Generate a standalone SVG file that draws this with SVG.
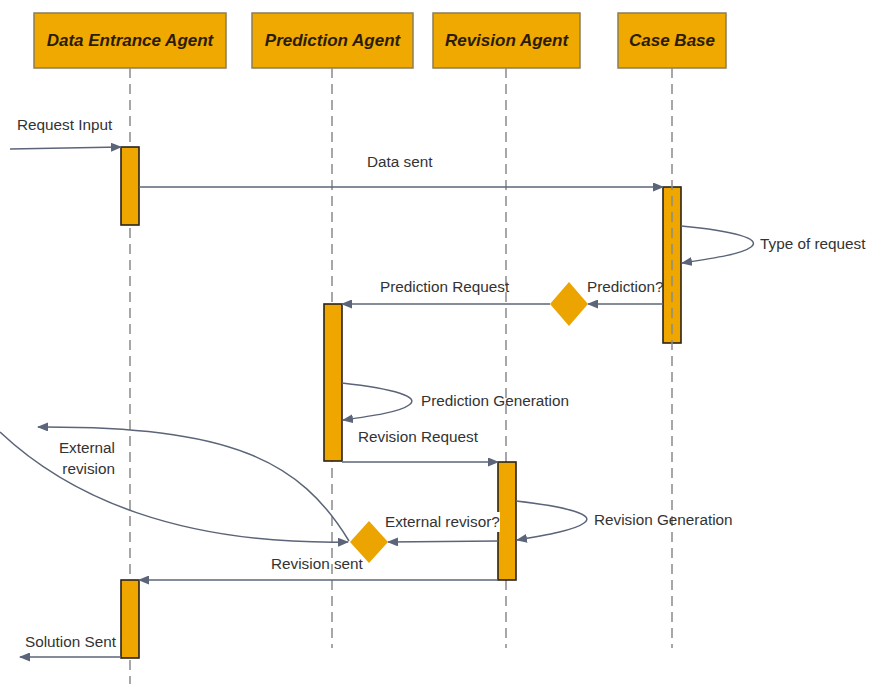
<svg xmlns="http://www.w3.org/2000/svg" width="869" height="684" viewBox="0 0 869 684">
  <defs>
    <marker id="arrow" markerUnits="userSpaceOnUse" markerWidth="11" markerHeight="9" refX="10" refY="4.5" orient="auto">
      <path d="M0,0 L11,4.5 L0,9 z" fill="#5b6478"/>
    </marker>
    <style>
      .head { fill: #f0a900; stroke: #8c7d55; stroke-width: 1.5; }
      .head-text { font-family: "Liberation Sans", Arial, sans-serif; font-size: 17px; font-weight: bold; font-style: italic; fill: #2b1d05; text-anchor: middle; }
      .life { stroke: #8a8a8a; stroke-width: 1.5; stroke-dasharray: 10 6; fill: none; }
      .bar { fill: #efa700; stroke: #2a2418; stroke-width: 1.6; }
      .msg { stroke: #5b6478; stroke-width: 1.5; fill: none; marker-end: url(#arrow); }
      .label { font-family: "Liberation Sans", Arial, sans-serif; font-size: 15.3px; fill: #333333; }
      .decision { fill: #eba400; stroke: none; }
    </style>
  </defs>

  <rect width="869" height="684" fill="#ffffff"/>

  <!-- Data Entrance Agent -->
  <g id="data-entrance-agent">
    <rect class="head" x="34" y="13" width="192" height="55"/>
    <text class="head-text" x="130" y="46">Data Entrance Agent</text>
    <line class="life" x1="130" y1="68" x2="130" y2="684"/>
    <rect class="bar" x="121" y="147" width="18" height="78"/>
    <rect class="bar" x="121" y="580" width="18" height="78"/>
  </g>

  <!-- Prediction Agent -->
  <g id="prediction-agent">
    <rect class="head" x="252" y="13" width="161" height="55"/>
    <text class="head-text" x="332.5" y="46">Prediction Agent</text>
    <line class="life" x1="332" y1="68" x2="332" y2="648"/>
    <rect class="bar" x="324" y="304" width="18" height="157"/>
  </g>

  <!-- Revision Agent -->
  <g id="revision-agent">
    <rect class="head" x="433" y="13" width="147" height="55"/>
    <text class="head-text" x="506.5" y="46">Revision Agent</text>
    <line class="life" x1="506" y1="68" x2="506" y2="648"/>
    <rect class="bar" x="498" y="462" width="18" height="118"/>
  </g>

  <!-- Case Base (lifeline stays visible over its activation bar) -->
  <g id="case-base">
    <rect class="head" x="618" y="13" width="108" height="55"/>
    <text class="head-text" x="672" y="46">Case Base</text>
    <rect class="bar" x="663" y="187" width="18" height="156"/>
    <line class="life" x1="672" y1="68" x2="672" y2="648"/>
  </g>

  <!-- Messages -->
  <g id="connectors">
    <path class="msg" d="M10,149 L121,147"/>
    <path class="msg" d="M139,187 L663,187"/>
    <path class="msg" d="M681,226 C735,231 762,239 751,247 C742,254 715,258 682,263"/>
    <path class="msg" d="M663,304 L588,304"/>
    <path class="msg" d="M550,304 L342,304"/>
    <path class="msg" d="M342,383 C395,389 421,397 409,405 C400,412 372,416 343,420"/>
    <path class="msg" d="M342,462 L498,462"/>
    <path class="msg" d="M516,501 C569,507 596,515 584,523 C575,530 547,535 517,540"/>
    <path class="msg" d="M498,541 L388,542"/>
    <path class="msg" d="M349,541 C300,460 230,426 38,427"/>
    <path class="msg" d="M0,432 C70,498 180,545 348,542"/>
    <path class="msg" d="M498,580 L139,580"/>
    <path class="msg" d="M121,657 L20,657"/>
  </g>

  <!-- Decision points -->
  <g id="prediction-decision">
    <polygon class="decision" points="569,282 588,304 569,326 550,304"/>
  </g>
  <g id="revisor-decision">
    <polygon class="decision" points="369,521 388,542 369,563 350,542"/>
  </g>

  <!-- Message labels -->
  <g id="labels">
    <text class="label" x="17" y="130">Request Input</text>
    <text class="label" x="367" y="167">Data sent</text>
    <text class="label" x="760" y="249">Type of request</text>
    <text class="label" x="380" y="292">Prediction Request</text>
    <text class="label" x="587" y="292">Prediction?</text>
    <text class="label" x="421" y="406">Prediction Generation</text>
    <text class="label" x="358" y="442">Revision Request</text>
    <text class="label" x="594" y="525">Revision Generation</text>
    <rect x="384" y="512" width="116" height="20" fill="#ffffff"/>
    <text class="label" x="385" y="527">External revisor?</text>
    <text class="label" x="115" y="453" text-anchor="end">External</text>
    <text class="label" x="115" y="474" text-anchor="end">revision</text>
    <text class="label" x="271" y="569">Revision sent</text>
    <text class="label" x="25" y="647">Solution Sent</text>
  </g>
</svg>
